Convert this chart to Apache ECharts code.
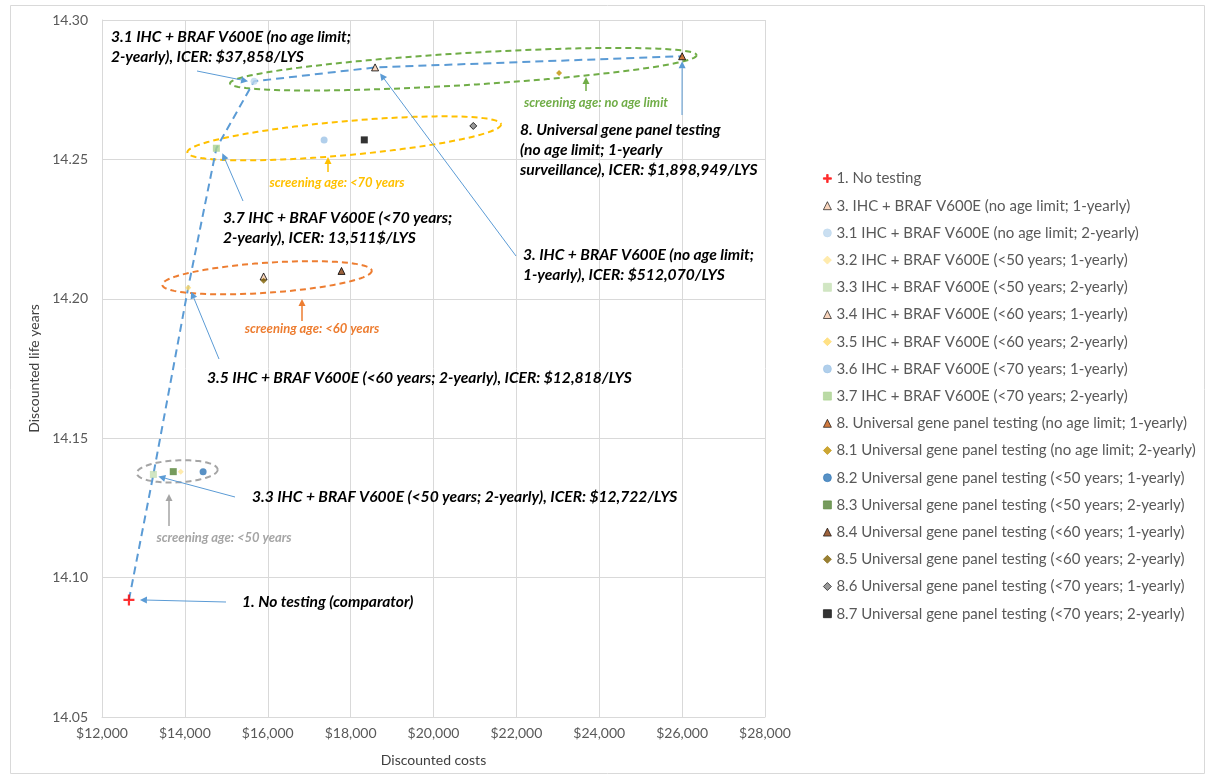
<!DOCTYPE html>
<html>
<head>
<meta charset="utf-8">
<title>Discounted costs vs discounted life years</title>
<script src="https://cdn.jsdelivr.net/npm/echarts@6/dist/echarts.min.js"></script>
<style>
  html, body { margin: 0; padding: 0; background: #fff; }
  #chart { width: 1206px; height: 776px; }
</style>
</head>
<body>
<div id="chart"></div>
<script>
// ---- data ----
const strategyCodes = ['1', '3', '3.1', '3.2', '3.3', '3.4', '3.5', '3.6', '3.7',
                       '8', '8.1', '8.2', '8.3', '8.4', '8.5', '8.6', '8.7'];
const strategyNames = [
  '1. No testing',
  '3. IHC + BRAF V600E (no age limit; 1-yearly)',
  '3.1 IHC + BRAF V600E (no age limit; 2-yearly)',
  '3.2 IHC + BRAF V600E (<50 years; 1-yearly)',
  '3.3 IHC + BRAF V600E (<50 years; 2-yearly)',
  '3.4 IHC + BRAF V600E (<60 years; 1-yearly)',
  '3.5 IHC + BRAF V600E (<60 years; 2-yearly)',
  '3.6 IHC + BRAF V600E (<70 years; 1-yearly)',
  '3.7 IHC + BRAF V600E (<70 years; 2-yearly)',
  '8. Universal gene panel testing (no age limit; 1-yearly)',
  '8.1 Universal gene panel testing (no age limit; 2-yearly)',
  '8.2 Universal gene panel testing (<50 years; 1-yearly)',
  '8.3 Universal gene panel testing (<50 years; 2-yearly)',
  '8.4 Universal gene panel testing (<60 years; 1-yearly)',
  '8.5 Universal gene panel testing (<60 years; 2-yearly)',
  '8.6 Universal gene panel testing (<70 years; 1-yearly)',
  '8.7 Universal gene panel testing (<70 years; 2-yearly)'
];
const costs = [12650, 18590, 15670, 13900, 13240, 15900, 14080, 17360, 14760,
               26000, 23030, 14440, 13720, 17780, 15900, 20960, 18330];
const lifeYears = [14.092, 14.283, 14.278, 14.138, 14.137, 14.208, 14.204, 14.257, 14.254,
                   14.287, 14.281, 14.138, 14.138, 14.210, 14.2065, 14.262, 14.257];
// efficiency frontier (dashed blue line), in order
const frontierCodes = ['1', '3.3', '3.5', '3.7', '3.1', '3', '8'];

const costTicks = [12000, 14000, 16000, 18000, 20000, 22000, 24000, 26000, 28000];
const lifeYearTicks = [14.05, 14.10, 14.15, 14.20, 14.25, 14.30];

// ---- marker looks (same order as strategyCodes) ----
const PLUS = 'path://M4,0H6V4H10V6H6V10H4V6H0V4H4Z';
const markers = [
  { symbol: PLUS, size: 11, color: '#FF0000' },
  { symbol: 'triangle', size: 7, color: '#F8CBAD', border: '#000' },
  { symbol: 'circle', size: 7, color: '#BDD7EE' },
  { symbol: 'diamond', size: 6, color: '#FFE699' },
  { symbol: 'rect', size: 7, color: '#C5E0B4' },
  { symbol: 'triangle', size: 7, color: '#F8CBAD', border: '#000' },
  { symbol: 'diamond', size: 6, color: '#FFD966' },
  { symbol: 'circle', size: 7, color: '#9DC3E6' },
  { symbol: 'rect', size: 7, color: '#A9D18E' },
  { symbol: 'triangle', size: 7, color: '#C55A11', border: '#000' },
  { symbol: 'diamond', size: 6, color: '#BF9000' },
  { symbol: 'circle', size: 7, color: '#2E75B6' },
  { symbol: 'rect', size: 7, color: '#548235' },
  { symbol: 'triangle', size: 7, color: '#843C0C', border: '#000' },
  { symbol: 'diamond', size: 6, color: '#7F6000' },
  { symbol: 'diamond', size: 7, color: '#7F7F7F', border: '#000' },
  { symbol: 'rect', size: 7, color: '#000000' }
];

const chart = echarts.init(document.getElementById('chart'));
const labelFont = 'Lato';

const frontierData = frontierCodes.map(c => {
  const i = strategyCodes.indexOf(c);
  return [costs[i], lifeYears[i]];
});

const series = [{
  name: 'frontier',
  type: 'line',
  data: frontierData,
  symbol: 'none',
  silent: true,
  z: 1,
  lineStyle: { color: '#5B9BD5', width: 2, type: [8, 5] }
}];
strategyNames.forEach((name, i) => {
  const m = markers[i];
  series.push({
    name: name,
    type: 'scatter',
    z: 3,
    data: [[costs[i], lifeYears[i]]],
    symbol: m.symbol,
    symbolSize: m.size,
    itemStyle: {
      color: m.color,
      borderColor: m.border || m.color,
      borderWidth: m.border ? 1 : 0
    }
  });
});

chart.setOption({
  animation: false,
  textStyle: { fontFamily: labelFont },
  grid: { left: 102, right: 441, top: 20, bottom: 59 },
  legend: {
    data: strategyNames,
    orient: 'vertical',
    left: 818,
    top: 166,
    itemWidth: 8,
    itemHeight: 8,
    itemGap: 12.2,
    itemStyle: { borderWidth: 0.8 },
    textStyle: { color: '#595959', fontSize: 15, fontFamily: labelFont }
  },
  xAxis: {
    type: 'value',
    min: costTicks[0],
    max: costTicks[costTicks.length - 1],
    interval: costTicks[1] - costTicks[0],
    name: 'Discounted costs',
    nameLocation: 'middle',
    nameGap: 36,
    nameTextStyle: { color: '#404040', fontSize: 14 },
    axisLine: { lineStyle: { color: '#D9D9D9' } },
    axisTick: { show: false },
    axisLabel: {
      color: '#595959', fontSize: 14, margin: 9,
      formatter: v => '$' + v.toLocaleString('en-US')
    },
    splitLine: { lineStyle: { color: '#D9D9D9' } }
  },
  yAxis: {
    type: 'value',
    min: lifeYearTicks[0],
    max: lifeYearTicks[lifeYearTicks.length - 1],
    interval: 0.05,
    name: 'Discounted life years',
    nameLocation: 'middle',
    nameGap: 58,
    nameTextStyle: { color: '#404040', fontSize: 14 },
    axisLine: { show: true, lineStyle: { color: '#D9D9D9' } },
    axisTick: { show: false },
    axisLabel: {
      color: '#595959', fontSize: 14, margin: 14,
      formatter: v => v.toFixed(2)
    },
    splitLine: { lineStyle: { color: '#D9D9D9' } }
  },
  series: series
});

// ---- annotations: ellipses, arrows, call-out text ----
function px(cost, ly) {
  return chart.convertToPixel({ gridIndex: 0 }, [cost, ly]);
}
function pointPx(code) {
  const i = strategyCodes.indexOf(code);
  return px(costs[i], lifeYears[i]);
}

function arrow(x1, y1, x2, y2, color, width, len, half) {
  const a = Math.atan2(y2 - y1, x2 - x1);
  const bx = x2 - len * Math.cos(a), by = y2 - len * Math.sin(a);
  return [
    { type: 'line', silent: true, shape: { x1: x1, y1: y1, x2: bx, y2: by },
      style: { stroke: color, lineWidth: width } },
    { type: 'polygon', silent: true,
      shape: { points: [[x2, y2],
        [bx + half * Math.sin(a), by - half * Math.cos(a)],
        [bx - half * Math.sin(a), by + half * Math.cos(a)]] },
      style: { fill: color } }
  ];
}

function ellipse(left, right, ry, color) {
  const a = px(left[0], left[1]), b = px(right[0], right[1]);
  const cx = (a[0] + b[0]) / 2, cy = (a[1] + b[1]) / 2;
  const rx = Math.hypot(b[0] - a[0], b[1] - a[1]) / 2;
  const ang = Math.atan2(b[1] - a[1], b[0] - a[0]);
  const pts = [];
  for (let k = 0; k <= 120; k++) {
    const t = k / 120 * Math.PI * 2;
    const ex = rx * Math.cos(t), ey = ry * Math.sin(t);
    pts.push([cx + ex * Math.cos(ang) - ey * Math.sin(ang),
              cy + ex * Math.sin(ang) + ey * Math.cos(ang)]);
  }
  return { type: 'polyline', silent: true, shape: { points: pts },
    style: { stroke: color, lineWidth: 2, lineDash: [6, 4], fill: null } };
}

// screening-age groups: ellipse ends in data units
const groups = [
  { left: [15090, 14.2773], right: [26350, 14.2874], ry: 16, color: '#70AD47',
    text: 'screening age: no age limit', tx: 596, ty: 103, arrow: [586, 91, 586, 77] },
  { left: [14060, 14.2525], right: [21630, 14.2626], ry: 17, color: '#FFC000',
    text: 'screening age: <70 years', tx: 337, ty: 183, arrow: [328, 172, 328, 157] },
  { left: [13455, 14.2050], right: [18510, 14.2101], ry: 15, color: '#ED7D31',
    text: 'screening age: <60 years', tx: 312, ty: 329, arrow: [302, 321, 302, 299] },
  { left: [12840, 14.1374], right: [14790, 14.1388], ry: 11, color: '#A5A5A5',
    text: 'screening age: <50 years', tx: 224, ty: 538, arrow: [169, 526, 169, 494] }
];

// ICER call-outs: text block + arrow from tail to the strategy's marker
const callouts = [
  { code: '3.1', text: '3.1 IHC + BRAF V600E (no age limit;\n2-yearly), ICER: $37,858/LYS',
    x: 111, y: 27, tail: [197, 71], off: [-6, 0] },
  { code: '8', text: '8. Universal gene panel testing\n(no age limit; 1-yearly\nsurveillance), ICER: $1,898,949/LYS',
    x: 520, y: 120, tail: [682, 115], off: [0, 5] },
  { code: '3.7', text: '3.7 IHC + BRAF V600E (<70 years;\n2-yearly), ICER: 13,511$/LYS',
    x: 223, y: 208, tail: [243, 201], off: [6, 5] },
  { code: '3', text: '3. IHC + BRAF V600E (no age limit;\n1-yearly), ICER: $512,070/LYS',
    x: 523, y: 245, tail: [516, 256], off: [5, 6] },
  { code: '3.5', text: '3.5 IHC + BRAF V600E (<60 years; 2-yearly), ICER: $12,818/LYS',
    x: 207, y: 368, tail: [219, 359], off: [3, 4] },
  { code: '3.3', text: '3.3 IHC + BRAF V600E (<50 years; 2-yearly), ICER: $12,722/LYS',
    x: 252, y: 487, tail: [235, 497], off: [5, 2] },
  { code: '1', text: '1. No testing (comparator)',
    x: 242, y: 592, tail: [226, 602], off: [11, 0] }
];

const graphics = [];
// outer chart-area border
graphics.push({ type: 'rect', silent: true, shape: { x: 10.5, y: 5.5, width: 1194, height: 768 },
  style: { stroke: '#D9D9D9', fill: null, lineWidth: 1 }, z: -10 });

groups.forEach(g => {
  graphics.push(ellipse(g.left, g.right, g.ry, g.color));
  graphics.push(...arrow(g.arrow[0], g.arrow[1], g.arrow[2], g.arrow[3], g.color, 1.5, 7, 3.5));
  graphics.push({ type: 'text', silent: true, style: {
    text: g.text, x: g.tx, y: g.ty, fill: g.color,
    font: 'italic bold 13px ' + labelFont, align: 'center', verticalAlign: 'middle' } });
});

callouts.forEach(c => {
  const p = pointPx(c.code);
  graphics.push(...arrow(c.tail[0], c.tail[1], p[0] + c.off[0], p[1] + c.off[1], '#5B9BD5', 1, 7, 3.5));
  graphics.push({ type: 'text', silent: true, style: {
    text: c.text, x: c.x, y: c.y, fill: '#000',
    font: 'italic bold 15.6px ' + labelFont, lineHeight: 20, align: 'left', verticalAlign: 'top' } });
});

chart.setOption({ graphic: graphics });
</script>
</body>
</html>
